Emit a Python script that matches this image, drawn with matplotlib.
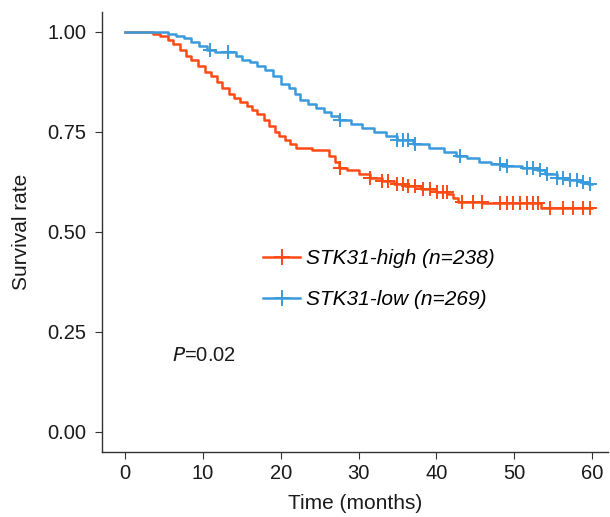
import numpy as np
import matplotlib
matplotlib.use("Agg")
import matplotlib.pyplot as plt

plt.rcParams['font.family'] = ['Liberation Sans', 'DejaVu Sans']

# STK31-high (red) Kaplan-Meier steps: time (months), survival
high_t = [0, 3.6, 4.5, 5.5, 6.2, 7.0, 7.8, 8.5, 9.3, 10.2, 11.0, 11.8, 12.5, 13.3,
          14.0, 14.8, 15.6, 16.3, 17.0, 17.8, 18.5, 19.2, 19.8, 20.5, 21.2, 22.0,
          24.0, 26.2, 27.0, 27.5, 28.5, 30.0, 31.5, 33.0, 34.5, 36.0, 38.0, 40.0,
          41.5, 42.2, 42.8, 46.0, 53.5]
high_s = [1.0, 0.995, 0.99, 0.98, 0.97, 0.955, 0.94, 0.93, 0.915, 0.9, 0.89, 0.875,
          0.86, 0.845, 0.835, 0.825, 0.815, 0.805, 0.795, 0.78, 0.765, 0.75, 0.74,
          0.73, 0.72, 0.71, 0.705, 0.69, 0.675, 0.66, 0.655, 0.645, 0.635, 0.628,
          0.62, 0.614, 0.607, 0.60, 0.595, 0.585, 0.575, 0.572, 0.56]
high_cens = [27.6, 31.5, 33.0, 33.8, 35.0, 35.7, 36.4, 37.3, 38.3, 39.2, 40.1, 40.9,
             41.4, 43.3, 44.7, 45.9, 48.2, 49.1, 49.9, 50.8, 51.7, 52.4, 53.1, 54.6,
             56.3, 57.6, 58.9, 59.8]

# STK31-low (blue)
low_t = [0, 5.5, 6.5, 7.5, 8.5, 9.5, 10.5, 11.5, 14.3, 15.0, 16.0, 17.0, 18.0, 19.0,
         20.0, 21.0, 21.8, 22.5, 23.5, 24.5, 25.5, 26.5, 27.5, 29.0, 30.5, 32.0, 33.5,
         35.0, 37.0, 39.0, 41.0, 42.5, 44.0, 45.5, 47.0, 48.5, 51.0, 53.0, 54.0, 55.5,
         57.0, 58.5, 59.5]
low_s = [1.0, 0.995, 0.99, 0.985, 0.975, 0.965, 0.955, 0.95, 0.94, 0.93, 0.925, 0.915,
         0.905, 0.89, 0.87, 0.86, 0.845, 0.83, 0.82, 0.81, 0.8, 0.79, 0.78, 0.77, 0.76,
         0.75, 0.74, 0.73, 0.72, 0.71, 0.70, 0.69, 0.685, 0.675, 0.67, 0.665, 0.66,
         0.655, 0.645, 0.635, 0.63, 0.625, 0.62]
low_cens = [10.9, 13.2, 27.6, 35.0, 35.7, 36.4, 37.3, 43.0, 48.2, 49.1, 51.7, 52.4,
            53.3, 54.2, 55.5, 56.3, 57.2, 58.1, 58.9, 59.8]

red = '#FF4A14'
blue = '#3A9BDC'


def surv_at(ts, ss, x):
    idx = np.searchsorted(ts, x, side='right') - 1
    return np.array(ss)[idx]


fig = plt.figure(figsize=(6.10, 5.17), dpi=100)
ax = fig.add_axes([0.167, 0.126, 0.83, 0.851])

for ts, ss, cens, col, lab in [(high_t, high_s, high_cens, red, 'STK31-high (n=238)'),
                               (low_t, low_s, low_cens, blue, 'STK31-low (n=269)')]:
    ts2 = list(ts) + [60]
    ss2 = list(ss) + [ss[-1]]
    ax.step(ts2, ss2, where='post', color=col, lw=1.8)
    ax.plot(cens, surv_at(ts, ss, cens), ls='none', marker='+', ms=10, mew=1.4, color=col)
    ax.plot([], [], color=col, lw=1.8, marker='+', ms=12, mew=1.4, label=lab)

ax.set_xlim(-3, 62.1)
ax.set_ylim(-0.05, 1.05)
ax.set_xticks([0, 10, 20, 30, 40, 50, 60])
ax.set_yticks([0, 0.25, 0.5, 0.75, 1.0])
ax.set_yticklabels(['0.00', '0.25', '0.50', '0.75', '1.00'])
for s in ['top', 'right']:
    ax.spines[s].set_visible(False)
for s in ['left', 'bottom']:
    ax.spines[s].set_color('#333333')
    ax.spines[s].set_linewidth(1.0)
ax.tick_params(labelsize=14.5, length=5, color='#333333', labelcolor='#1a1a1a')
ax.tick_params(axis='y', pad=6)
ax.set_xlabel('Time (months)', fontsize=15, color='#1a1a1a', labelpad=8)
ax.set_ylabel('Survival rate', fontsize=15, color='#1a1a1a', labelpad=12)

leg = ax.legend(loc='center left', bbox_to_anchor=(0.318, 0.393), frameon=False,
                fontsize=15, handlelength=1.8, handletextpad=0.25, labelspacing=1.05,
                borderpad=0, borderaxespad=0)
for t in leg.get_texts():
    t.set_fontstyle('italic')

ax.text(6.0, 0.19, r'$\it{P}$=0.02', fontsize=14.5, va='center', ha='left', color='#1a1a1a')

fig.savefig('out.png', dpi=100)
